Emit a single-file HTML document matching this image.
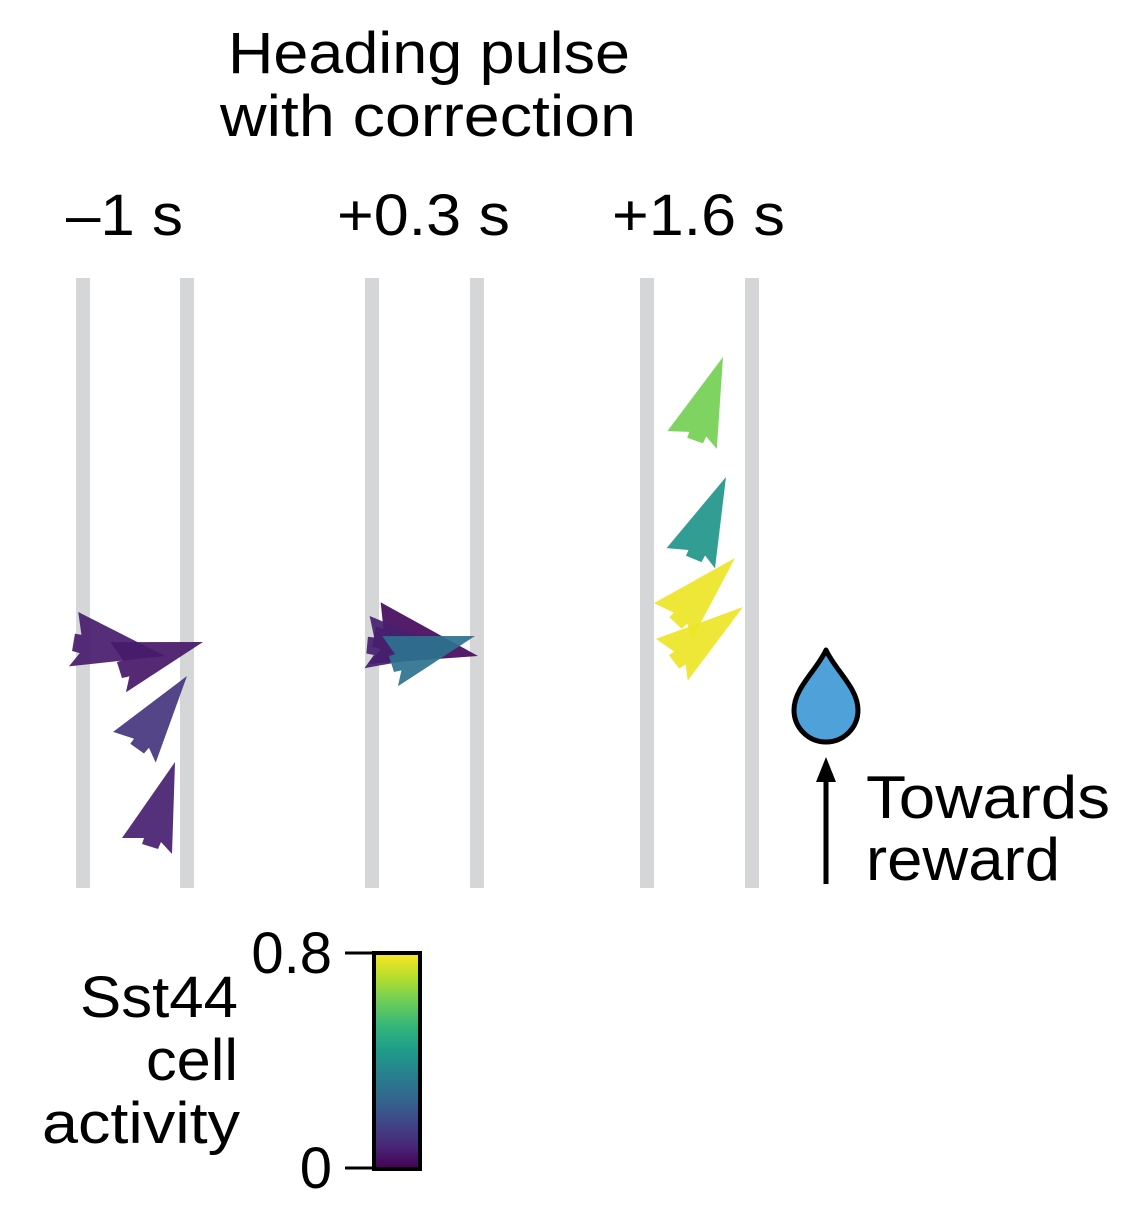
<!DOCTYPE html>
<html><head><meta charset="utf-8"><style>
body{margin:0;background:#fff}
svg{display:block;font-family:"Liberation Sans",Arial,sans-serif}
</style></head><body>
<svg id="fig" width="1144" height="1214" viewBox="0 0 1144 1214">
<text x="228" y="73" font-size="58" textLength="402" lengthAdjust="spacingAndGlyphs">Heading pulse</text>
<text x="220" y="136" font-size="58" textLength="416" lengthAdjust="spacingAndGlyphs">with correction</text>
<text x="66" y="235" font-size="58" textLength="117" lengthAdjust="spacingAndGlyphs">–1 s</text>
<text x="337" y="235" font-size="58" textLength="173" lengthAdjust="spacingAndGlyphs">+0.3 s</text>
<text x="612" y="235" font-size="58" textLength="173" lengthAdjust="spacingAndGlyphs">+1.6 s</text>
<g id="rails" fill="#d5d6d8">
<rect x="76" y="278" width="14" height="610"/>
<rect x="180" y="278" width="14" height="610"/>
<rect x="365" y="278" width="14" height="610"/>
<rect x="470" y="278" width="14" height="610"/>
<rect x="640" y="278" width="14" height="610"/>
<rect x="745" y="278" width="14" height="610"/>
</g>
<g id="arrows"></g>
<path d="M826 650 C835 670 858 688 858 710 A32 32 0 0 1 794 710 C794 688 817 670 826 650 Z" fill="#4fa1da" stroke="#000" stroke-width="5" stroke-linejoin="round"/>
<line x1="826" y1="884" x2="826" y2="775" stroke="#000" stroke-width="5"/>
<polygon points="826,757 816,782 836,782" fill="#000"/>
<text x="866" y="818" font-size="60" textLength="244" lengthAdjust="spacingAndGlyphs">Towards</text>
<text x="866" y="880" font-size="60" textLength="194" lengthAdjust="spacingAndGlyphs">reward</text>
<text x="80" y="1017" font-size="58" textLength="158" lengthAdjust="spacingAndGlyphs">Sst44</text>
<text x="146" y="1080" font-size="58" textLength="92" lengthAdjust="spacingAndGlyphs">cell</text>
<text x="42" y="1143" font-size="58" textLength="198" lengthAdjust="spacingAndGlyphs">activity</text>
<defs><linearGradient id="vir" x1="0" y1="1" x2="0" y2="0"></linearGradient></defs>
<rect x="374" y="953" width="46" height="216" fill="url(#vir)" stroke="#000" stroke-width="4"/>
<g id="cticks"></g>
</svg>
<script>
const viridisStops=["#440154","#482878","#3e4989","#31688e","#26828e","#1f9e89","#35b779","#6ece58","#b5de2b","#fde725"];
const arrowTipX=[203,165,187,175, 478,455,475, 723,726,735,743];
const arrowTipY=[642,656,676,762, 656,652,636, 357,477,558,607];
const arrowAngle=[55,82,18,0, 84,78,55, 2,5,26,35];
const arrowScale=[1,1.05,1,1, 1.2,1,1, 1,1,1,1];
const arrowActivity=[0.05,0.06,0.12,0.07, 0.02,0.07,0.3, 0.63,0.42,0.78,0.78];
const cbTicks=[0,0.8];
const cbMax=0.8;
const NS="http://www.w3.org/2000/svg";
function hex(h){return [1,3,5].map(i=>parseInt(h.substr(i,2),16));}
function viridis(t){t=Math.max(0,Math.min(1,t));const n=viridisStops.length-1;const i=Math.min(n-1,Math.floor(t*n));const f=t*n-i;const a=hex(viridisStops[i]),b=hex(viridisStops[i+1]);return "rgb("+a.map((v,k)=>Math.round(v+(b[k]-v)*f)).join(",")+")";}
const shape="0,0 -3,92 -14,80 -17,87 -33,82 -31,76 -53,76";
const g=document.getElementById("arrows");
for(let i=0;i<arrowTipX.length;i++){
 const p=document.createElementNS(NS,"polygon");
 p.setAttribute("points",shape);
 p.setAttribute("fill",viridis(arrowActivity[i]/cbMax));
 p.setAttribute("fill-opacity","0.92");
 p.setAttribute("transform","translate("+arrowTipX[i]+","+arrowTipY[i]+") rotate("+arrowAngle[i]+") scale("+arrowScale[i]+")");
 
 
 g.appendChild(p);
}
const grad=document.getElementById("vir");
viridisStops.forEach((c,i)=>{const s=document.createElementNS(NS,"stop");s.setAttribute("offset",(i/(viridisStops.length-1)));s.setAttribute("stop-color",c);grad.appendChild(s);});
const ct=document.getElementById("cticks");
const cbY=v=>1168-(v/cbMax)*215;
cbTicks.forEach(v=>{
 const l=document.createElementNS(NS,"line");
 l.setAttribute("x1",345);l.setAttribute("x2",374);l.setAttribute("y1",cbY(v));l.setAttribute("y2",cbY(v));
 l.setAttribute("stroke","#000");l.setAttribute("stroke-width","3");
 
 
 ct.appendChild(l);
 const t=document.createElementNS(NS,"text");
 t.setAttribute("x",332);t.setAttribute("y",cbY(v)+20);t.setAttribute("font-size","58");t.setAttribute("text-anchor","end");
 t.textContent=String(v);
 
 
 ct.appendChild(t);
});
</script>
</body></html>
